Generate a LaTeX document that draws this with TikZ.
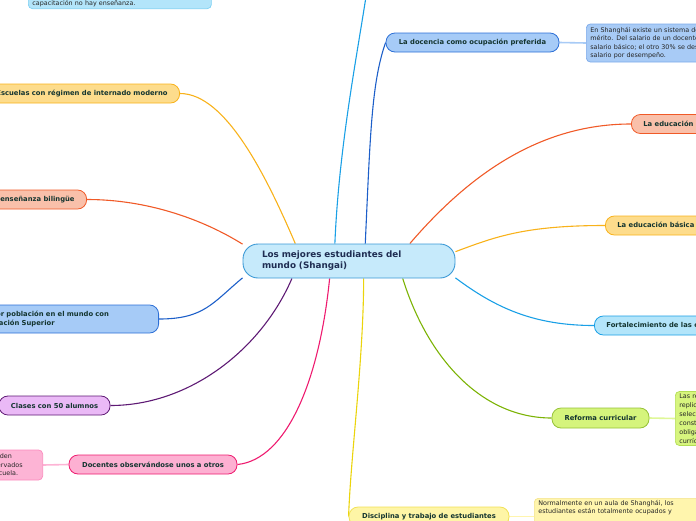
\documentclass[tikz,border=0pt]{standalone}
\usepackage{fontspec}
\setmainfont{DejaVu Sans}
\usetikzlibrary{backgrounds}
\definecolor{rootfill}{HTML}{C6EAFB}
\definecolor{rootline}{HTML}{3B99D6}
\definecolor{roottext}{HTML}{1F2D52}
\definecolor{topictext}{HTML}{143530}
\definecolor{bluefill}{HTML}{A6CBF7}
\definecolor{blueline}{HTML}{2C6FD6}
\definecolor{bluelink}{HTML}{1D5FC9}
\definecolor{cyanfill}{HTML}{B3E5FA}
\definecolor{cyanline}{HTML}{1AA0E6}
\definecolor{orfill}{HTML}{FDDC8C}
\definecolor{orline}{HTML}{F8B21B}
\definecolor{redfill}{HTML}{F9C0AA}
\definecolor{redline}{HTML}{F05A28}
\definecolor{purfill}{HTML}{EAB9F6}
\definecolor{purline}{HTML}{5E1A74}
\definecolor{pinkfill}{HTML}{FDB0D2}
\definecolor{pinkline}{HTML}{EE1B6F}
\definecolor{yelfill}{HTML}{FEF5A6}
\definecolor{yelline}{HTML}{EBD40C}
\definecolor{greenfill}{HTML}{D5F47C}
\definecolor{greenline}{HTML}{7CB305}
\definecolor{blueleaf}{HTML}{A8CBF6}
\definecolor{blueleafline}{HTML}{7DAAEA}
\definecolor{cyanleaf}{HTML}{B3E5FA}
\definecolor{cyanleafline}{HTML}{7ED0F2}
\definecolor{pinkleaf}{HTML}{FDB4D5}
\definecolor{pinkleafline}{HTML}{FB8CBE}
\definecolor{yelleaf}{HTML}{FFF5AD}
\definecolor{yelleafline}{HTML}{F4E38B}
\definecolor{greenleaf}{HTML}{D7F57E}
\definecolor{greenleafline}{HTML}{B3DE55}
\tikzset{
  root/.style={draw=rootline,fill=rootfill,rounded corners=15pt,line width=0.9pt,
    align=left,text width=174pt,minimum width=212pt,minimum height=34pt,inner xsep=19pt,
    font=\bfseries\fontsize{8.8}{11}\selectfont,text=roottext},
  topic/.style={rounded corners=9pt,line width=0.8pt,minimum height=19pt,inner xsep=12pt,
    inner ysep=0pt,font=\bfseries\fontsize{6.8}{8.5}\selectfont,text=topictext},
  leaf/.style={rounded corners=4pt,line width=0.7pt,align=left,inner xsep=4pt,inner ysep=2pt,
    font=\fontsize{6.4}{8.4}\selectfont,text=black!85},
  branch/.style={draw=#1,line width=1.1pt},
  twig/.style={draw=#1,line width=1.6pt}
}
\begin{document}
\begin{tikzpicture}[x=1pt,y=-1pt]
\useasboundingbox (0,0) rectangle (696,520);
\node[root] (cen) at (349,261) {Los mejores estudiantes del\\mundo (Shangai)};

\node[topic,fill=bluefill,draw=blueline,minimum width=173pt] (doc) at (472.5,42.5) {La docencia como ocupación preferida};
\node[leaf,fill=blueleaf,draw=blueleafline,anchor=west,text width=150pt,minimum height=38pt] (docl) at (586,43)
  {En Shanghái existe un sistema de\\mérito. Del salario de un docente\\salario básico; el otro 30\% se destina\\salario por desempeño.};
\node[leaf,fill=cyanleaf,draw=cyanleafline,anchor=south west,text width=175pt,text height=14pt] (capl) at (28,9) {capacitación no hay enseñanza.};
\coordinate (topc) at (372,-50);

\node[topic,fill=orfill,draw=orline,anchor=east] (esc) at (180,93.5) {Escuelas con régimen de internado moderno};
\node[topic,fill=redfill,draw=redline,anchor=east] (bil) at (87,199.5) {La enseñanza bilingüe};
\node[topic,fill=bluefill,draw=blueline,anchor=east,minimum height=28pt,align=left,text width=166pt] (may) at (159,319)
  {Mayor población en el mundo con\\Educación Superior};
\node[topic,fill=purfill,draw=purline,minimum width=111pt] (cla) at (54.5,405.5) {Clases con 50 alumnos};
\node[topic,fill=pinkfill,draw=pinkline,minimum width=168pt] (dct) at (153,464.5) {Docentes observándose unos a otros};
\node[leaf,fill=pinkleaf,draw=pinkleafline,anchor=east,text width=65pt,minimum height=30pt] (dctl) at (43,465)
  {que pueden\\ser observados\\en la escuela.};

\node[topic,fill=yelfill,draw=yelline!70,minimum width=160pt] (dis) at (429,516.5) {Disciplina y trabajo de estudiantes};
\node[leaf,fill=yelleaf,draw=yelleafline,anchor=north west,text width=165pt,text depth=20pt] (disl) at (534,498)
  {Normalmente en un aula de Shanghái, los\\estudiantes están totalmente ocupados y};

\node[topic,fill=greenfill,draw=greenline!80,minimum width=97pt,minimum height=20pt] (ref) at (600.5,418) {Reforma curricular};
\node[leaf,fill=greenleaf,draw=greenleafline,anchor=west,text width=60pt,minimum height=53pt,font=\fontsize{6.4}{9}\selectfont] (refl) at (675,418.5)
  {Las reformas\\replicaron\\selección\\constituye\\obligatorio\\currículo};

\node[topic,fill=cyanfill,draw=cyanline,anchor=west] (fort) at (594,325.5) {Fortalecimiento de las capacidades docentes};
\node[topic,fill=orfill,draw=orline,anchor=west] (bas) at (605,225.5) {La educación básica obligatoria};
\node[topic,fill=redfill,draw=redline,anchor=west] (pre) at (631,124) {La educación preescolar};

\begin{scope}[on background layer]
\draw[branch=cyanline] (cen.129) .. controls +(5,-120) and +(-5,60) .. (topc);
\draw[branch=bluelink] (cen.47) .. controls +(5,-110) and +(-14,40) .. (doc.west);
\draw[branch=orline] (cen.162) .. controls +(-30,-70) and +(45,0) .. (esc.east);
\draw[branch=redline] (cen.171) .. controls +(-40,-25) and +(60,0) .. (bil.east);
\draw[branch=bluelink] (cen.189) .. controls +(-30,25) and +(45,0) .. (may.east);
\draw[branch=purline] (cen.197) .. controls +(-30,70) and +(80,0) .. (cla.east);
\draw[branch=pinkline] (cen.222) .. controls +(-10,100) and +(50,-5) .. (dct.east);
\draw[branch=yelline] (cen.310) .. controls +(0,80) and +(2,-60) .. (dis.west);
\draw[branch=greenline] (cen.342) .. controls +(25,80) and +(-70,0) .. (ref.west);
\draw[branch=cyanline] (cen.351) .. controls +(40,30) and +(-60,0) .. (fort.west);
\draw[branch=orline] (cen.5) .. controls +(40,-15) and +(-80,0) .. (bas.west);
\draw[branch=redline] (cen.16) .. controls +(60,-70) and +(-90,0) .. (pre.west);
\draw[twig=blueleaf] (doc.east) -- (docl.west);
\draw[twig=pinkleaf] (dctl.east) -- (dct.west);
\draw[twig=yelleaf] (dis.east) -- (dis.east -| disl.west);
\draw[twig=greenleaf!80] (ref.east) -- (refl.west);
\end{scope}
\end{tikzpicture}
\end{document}
